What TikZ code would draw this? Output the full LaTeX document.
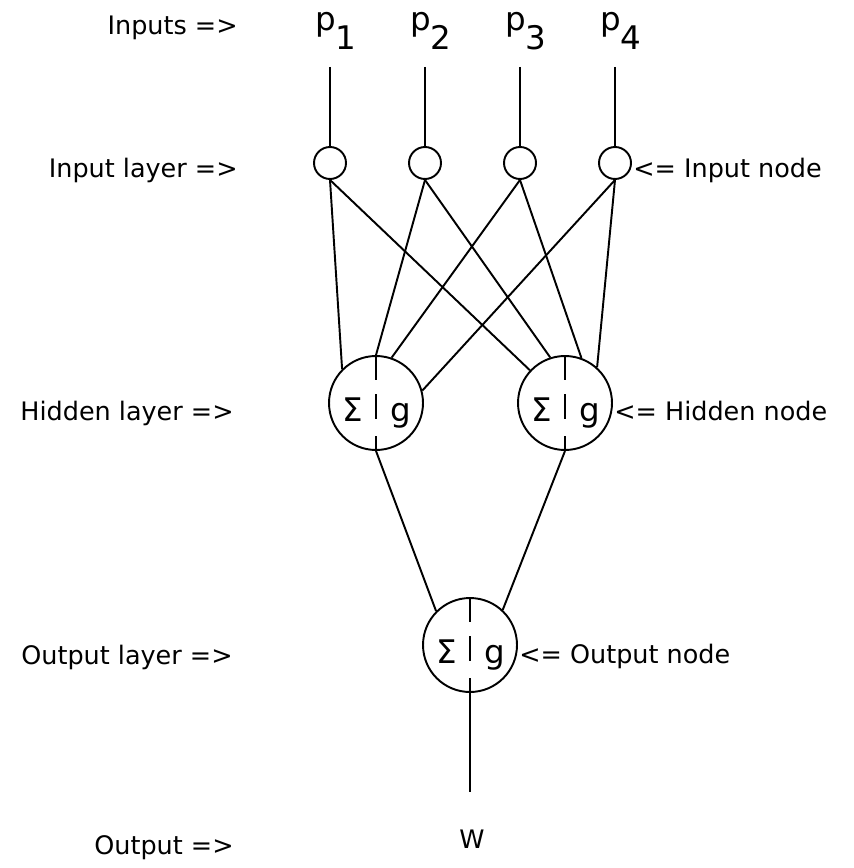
\documentclass[tikz,border=0pt]{standalone}
\usepackage{fontspec}
\setmainfont{DejaVu Sans}

\tikzset{
	innode/.style={draw, circle, line width=1.1pt, minimum size=0.64cm, inner sep=0pt},
	sumnode/.style={draw, circle, line width=1.1pt, minimum size=1.88cm, inner sep=0pt},
	conn/.style={line width=1.1pt},
	lbl/.style={font=\fontsize{14.5}{17}\selectfont, inner sep=0pt},
	biglbl/.style={font=\fontsize{18.5}{21}\selectfont, inner sep=0pt},
	splitline/.style={line width=0.8pt, dash pattern=on 0.5cm off 0.28cm on 0.5cm off 0.34cm on 0.4cm}
}

% sum | activation inside a node
\newcommand{\sumg}[1]{
	\draw[splitline] (#1.north) -- (#1.south);
	\node[biglbl, anchor=base, xshift=-0.46cm, yshift=-0.37cm] at (#1) {Σ};
	\node[biglbl, anchor=base, xshift=0.5cm, yshift=-0.37cm] at (#1) {g};
}

\begin{document}
\begin{tikzpicture}[x=0.02cm, y=-0.02cm]
	\useasboundingbox (0,0) rectangle (853,868);

	% inputs
	\foreach \i/\x in {1/330, 2/425, 3/520, 4/615} {
		\node[biglbl, anchor=base west] (p\i) at (\x-15,31) {p\raisebox{-0.38cm}{\i}};
		\coordinate (t\i) at (\x,67);
		\node[innode] (i\i) at (\x,163) {};
		\draw[conn] (t\i) -- (i\i.north);
	}

	% hidden and output
	\node[sumnode]	(h1)	at (376,403)	{};
	\node[sumnode]	(h2)	at (565,403)	{};
	\node[sumnode]	(o)		at (470,645)	{};
	\sumg{h1}
	\sumg{h2}
	\sumg{o}

	\coordinate (w) at (470,792);
	\node[lbl, anchor=base] (wout) at (472,848) {W};

	\path[conn]
	(i1.south)	edge	(h1.135)
				edge	(h2.137)
	(i2.south)	edge	(h1.90)
				edge	(h2.108)
	(i3.south)	edge	(h1.71)
				edge	(h2.70)
	(i4.south)	edge	(h1.15)
				edge	(h2.48)
	(h1.south)	edge	(o.135)
	(h2.south)	edge	(o.47)
	(o.south)	edge	(w);

	% layer labels
	\node[lbl, anchor=base east]	(l1)	at (238,35)		{Inputs =>};
	\node[lbl, anchor=base east]	(l2)	at (238,177)	{Input layer =>};
	\node[lbl, anchor=base east]	(l3)	at (234,420)	{Hidden layer =>};
	\node[lbl, anchor=base east]	(l4)	at (233,664)	{Output layer =>};
	\node[lbl, anchor=base east]	(l5)	at (234,854)	{Output =>};

	% node labels
	\node[lbl, anchor=base west]	(r1)	at (633,177)	{<= Input node};
	\node[lbl, anchor=base west]	(r2)	at (614,420)	{<= Hidden node};
	\node[lbl, anchor=base west]	(r3)	at (519,663)	{<= Output node};
\end{tikzpicture}
\end{document}
